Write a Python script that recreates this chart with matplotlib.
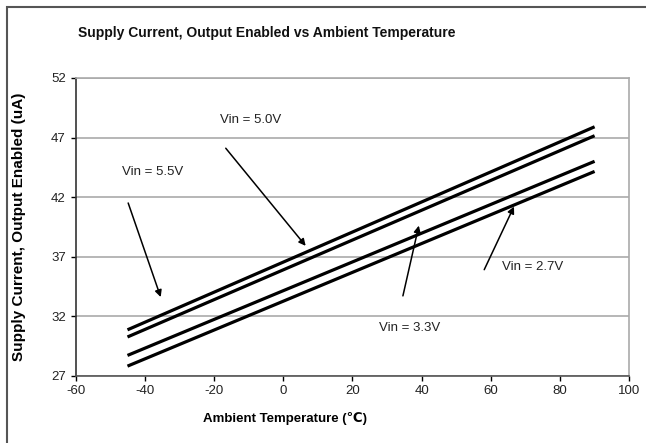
import matplotlib
matplotlib.use("Agg")
import matplotlib.pyplot as plt
from matplotlib.patches import Rectangle

plt.rcParams['font.family'] = ['Liberation Sans', 'DejaVu Sans']
plt.rcParams['axes.unicode_minus'] = False

# Temperatur-Endpunkte der Messkurven (°C)
temperatur = [-45, 90]

# Versorgungsstrom (uA) je Eingangsspannung
strom_55 = [30.85, 47.9]
strom_50 = [30.25, 47.15]
strom_33 = [28.7, 45.0]
strom_27 = [27.8, 44.15]

# Beschriftungen: Text, Textposition, Pfeilanfang, Pfeilspitze
labels = ["Vin = 5.0V", "Vin = 5.5V", "Vin = 3.3V", "Vin = 2.7V"]
text_pos = [(-9.4, 48.5), (-37.7, 44.1), (36.4, 31.0), (72.2, 36.1)]
pfeil_start = [(-16.6, 46.1), (-44.8, 41.5), (34.6, 33.7), (58.1, 35.9)]
pfeil_ende = [(6.5, 37.9), (-35.4, 33.6), (39.2, 39.6), (66.7, 41.2)]

x_ticks = [-60, -40, -20, 0, 20, 40, 60, 80, 100]
y_ticks = [27, 32, 37, 42, 47, 52]

fig = plt.figure(figsize=(6.46, 4.43), dpi=100)
ax = fig.add_axes([0.117, 0.152, 0.857, 0.672])

# Rahmen um die gesamte Grafik
fig.patches.append(Rectangle((7 / 646, -0.1), 1.2, 1 - 7 / 443 + 0.1,
                             transform=fig.transFigure, fill=False,
                             edgecolor='#555555', linewidth=1.5))

for kurve in [strom_55, strom_50, strom_33, strom_27]:
    ax.plot(temperatur, kurve, color='black', linewidth=2.3, solid_capstyle='butt', zorder=3)

for text, tp, ps, pe in zip(labels, text_pos, pfeil_start, pfeil_ende):
    ax.text(tp[0], tp[1], text, fontsize=9.5, ha='center', va='center', color='#222222')
    ax.annotate("", xy=pe, xytext=ps,
                arrowprops=dict(arrowstyle='-|>', color='black', lw=1.1,
                                mutation_scale=10, shrinkA=0, shrinkB=0),
                zorder=4)

ax.set_xlim(-60, 100)
ax.set_ylim(27, 52)
ax.set_xticks(x_ticks)
ax.set_yticks(y_ticks)
ax.tick_params(axis='both', labelsize=9.5, labelcolor='#222222', direction='out', length=3.5, width=1)
ax.yaxis.grid(True, color='#aaaaaa', linewidth=1.2)
ax.set_axisbelow(True)

ax.spines['left'].set_color('#333333')
ax.spines['bottom'].set_color('#555555')
ax.spines['top'].set_color('#aaaaaa')
ax.spines['right'].set_color('#aaaaaa')
for s in ax.spines.values():
    s.set_linewidth(1.2)

ax.set_xlabel("Ambient Temperature (\u2103)", fontsize=9.5, fontweight='bold')
ax.xaxis.set_label_coords(0.378, -0.123)
ax.set_ylabel("Supply Current, Output Enabled (uA)", fontsize=11, fontweight='bold')
ax.yaxis.set_label_coords(-0.089, 0.5)
fig.text(267 / 646, 0.925, "Supply Current, Output Enabled vs Ambient Temperature",
         fontsize=10, fontweight='bold', ha='center', va='center', color='#111111')

fig.savefig("out.png", dpi=100)
